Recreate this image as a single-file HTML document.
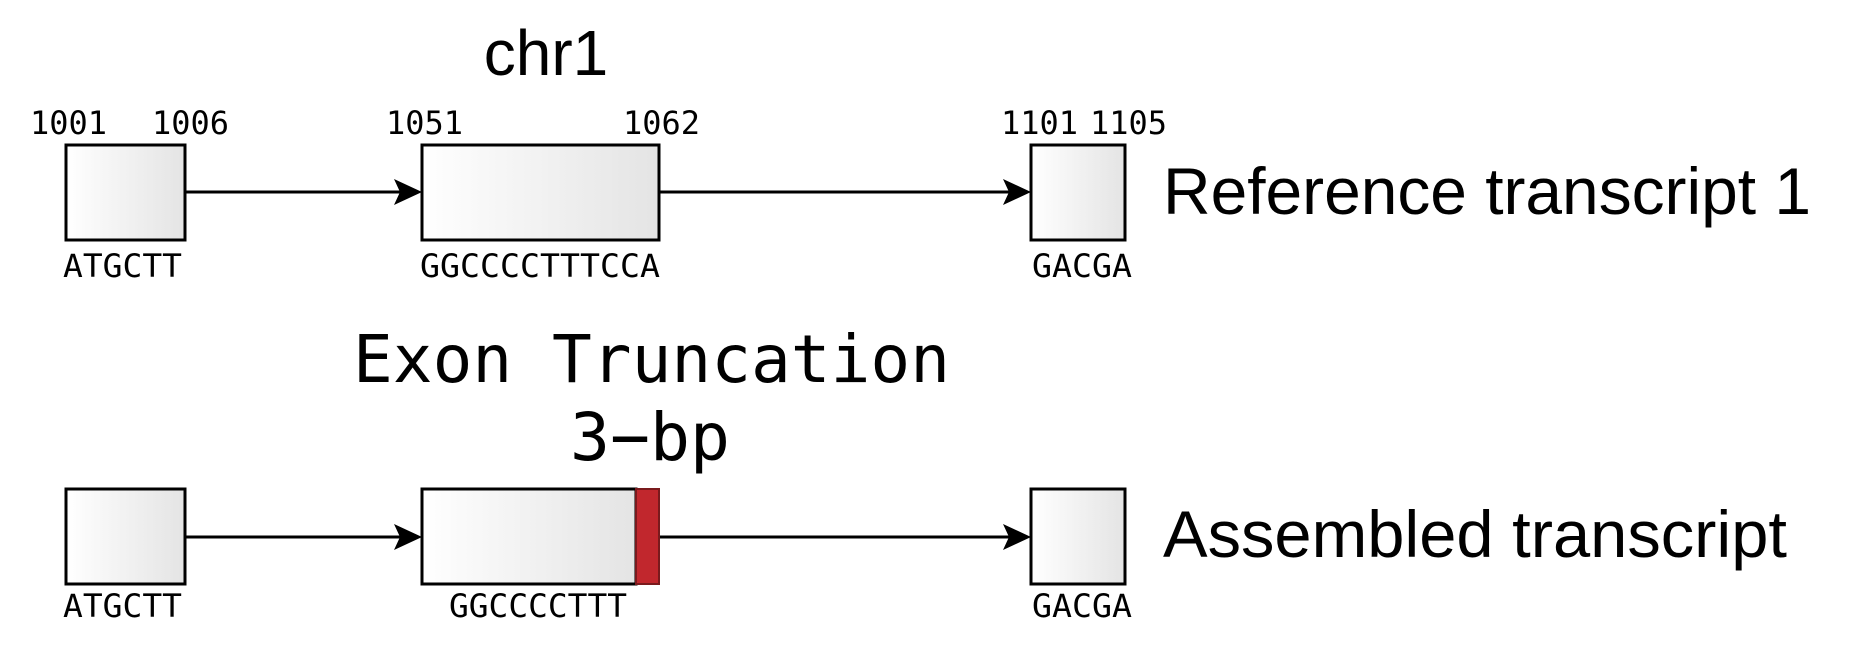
<!DOCTYPE html>
<html><head><meta charset="utf-8"><style>html,body{margin:0;padding:0;background:#fff}svg{display:block}</style></head>
<body>
<svg width="1852" height="650" viewBox="0 0 1852 650" xmlns="http://www.w3.org/2000/svg">
<defs>
<linearGradient id="g" x1="0" x2="1" y1="0" y2="0"><stop offset="0" stop-color="#ffffff"/><stop offset="1" stop-color="#e4e4e4"/></linearGradient>
</defs>
<g font-family="'Liberation Sans', sans-serif" fill="#000">
<text x="546" y="75" font-size="64" text-anchor="middle">chr1</text>
<text x="1163" y="214" font-size="66" textLength="648" lengthAdjust="spacingAndGlyphs">Reference transcript 1</text>
<text x="1163" y="557" font-size="66" textLength="624" lengthAdjust="spacingAndGlyphs">Assembled transcript</text>
</g>
<g font-family="'DejaVu Sans Mono', 'Liberation Mono', monospace" fill="#000" font-size="32">
<text x="30" y="134" textLength="77" lengthAdjust="spacingAndGlyphs">1001</text>
<text x="152" y="134" textLength="77" lengthAdjust="spacingAndGlyphs">1006</text>
<text x="386" y="134" textLength="77" lengthAdjust="spacingAndGlyphs">1051</text>
<text x="623" y="134" textLength="77" lengthAdjust="spacingAndGlyphs">1062</text>
<text x="1001" y="134" textLength="77" lengthAdjust="spacingAndGlyphs">1101</text>
<text x="1090" y="134" textLength="77" lengthAdjust="spacingAndGlyphs">1105</text>
<text x="63" y="277" textLength="119" lengthAdjust="spacingAndGlyphs">ATGCTT</text>
<text x="420" y="277" textLength="240" lengthAdjust="spacingAndGlyphs">GGCCCCTTTCCA</text>
<text x="1032" y="277" textLength="100" lengthAdjust="spacingAndGlyphs">GACGA</text>
<text x="63" y="617" textLength="119" lengthAdjust="spacingAndGlyphs">ATGCTT</text>
<text x="449" y="617" textLength="178" lengthAdjust="spacingAndGlyphs">GGCCCCTTT</text>
<text x="1032" y="617" textLength="100" lengthAdjust="spacingAndGlyphs">GACGA</text>
<text x="353" y="382" font-size="66" textLength="597" lengthAdjust="spacingAndGlyphs">Exon Truncation</text>
<text x="570" y="460" font-size="66" textLength="160" lengthAdjust="spacingAndGlyphs">3−bp</text>
</g>
<g stroke="#000" stroke-width="3">
<rect x="66" y="145" width="119" height="95" fill="url(#g)"/>
<rect x="422" y="145" width="237" height="95" fill="url(#g)"/>
<rect x="1031" y="145" width="94" height="95" fill="url(#g)"/>
<line x1="185" y1="192" x2="400" y2="192"/>
<line x1="659" y1="192" x2="1010" y2="192"/>
<rect x="66" y="489" width="119" height="95" fill="url(#g)"/>
<rect x="422" y="489" width="214" height="95" fill="url(#g)"/>
<rect x="1031" y="489" width="94" height="95" fill="url(#g)"/>
<line x1="185" y1="537" x2="400" y2="537"/>
<line x1="659" y1="537" x2="1010" y2="537"/>
</g>
<rect x="636" y="489" width="23" height="95" fill="#c1272d" stroke="#7a1a1d" stroke-width="2"/>
<g fill="#000">
<polygon points="422,192 394,179 400,192 394,205"/>
<polygon points="1031,192 1003,179 1009,192 1003,205"/>
<polygon points="422,537 394,524 400,537 394,550"/>
<polygon points="1031,537 1003,524 1009,537 1003,550"/>
</g>
</svg>
</body></html>
